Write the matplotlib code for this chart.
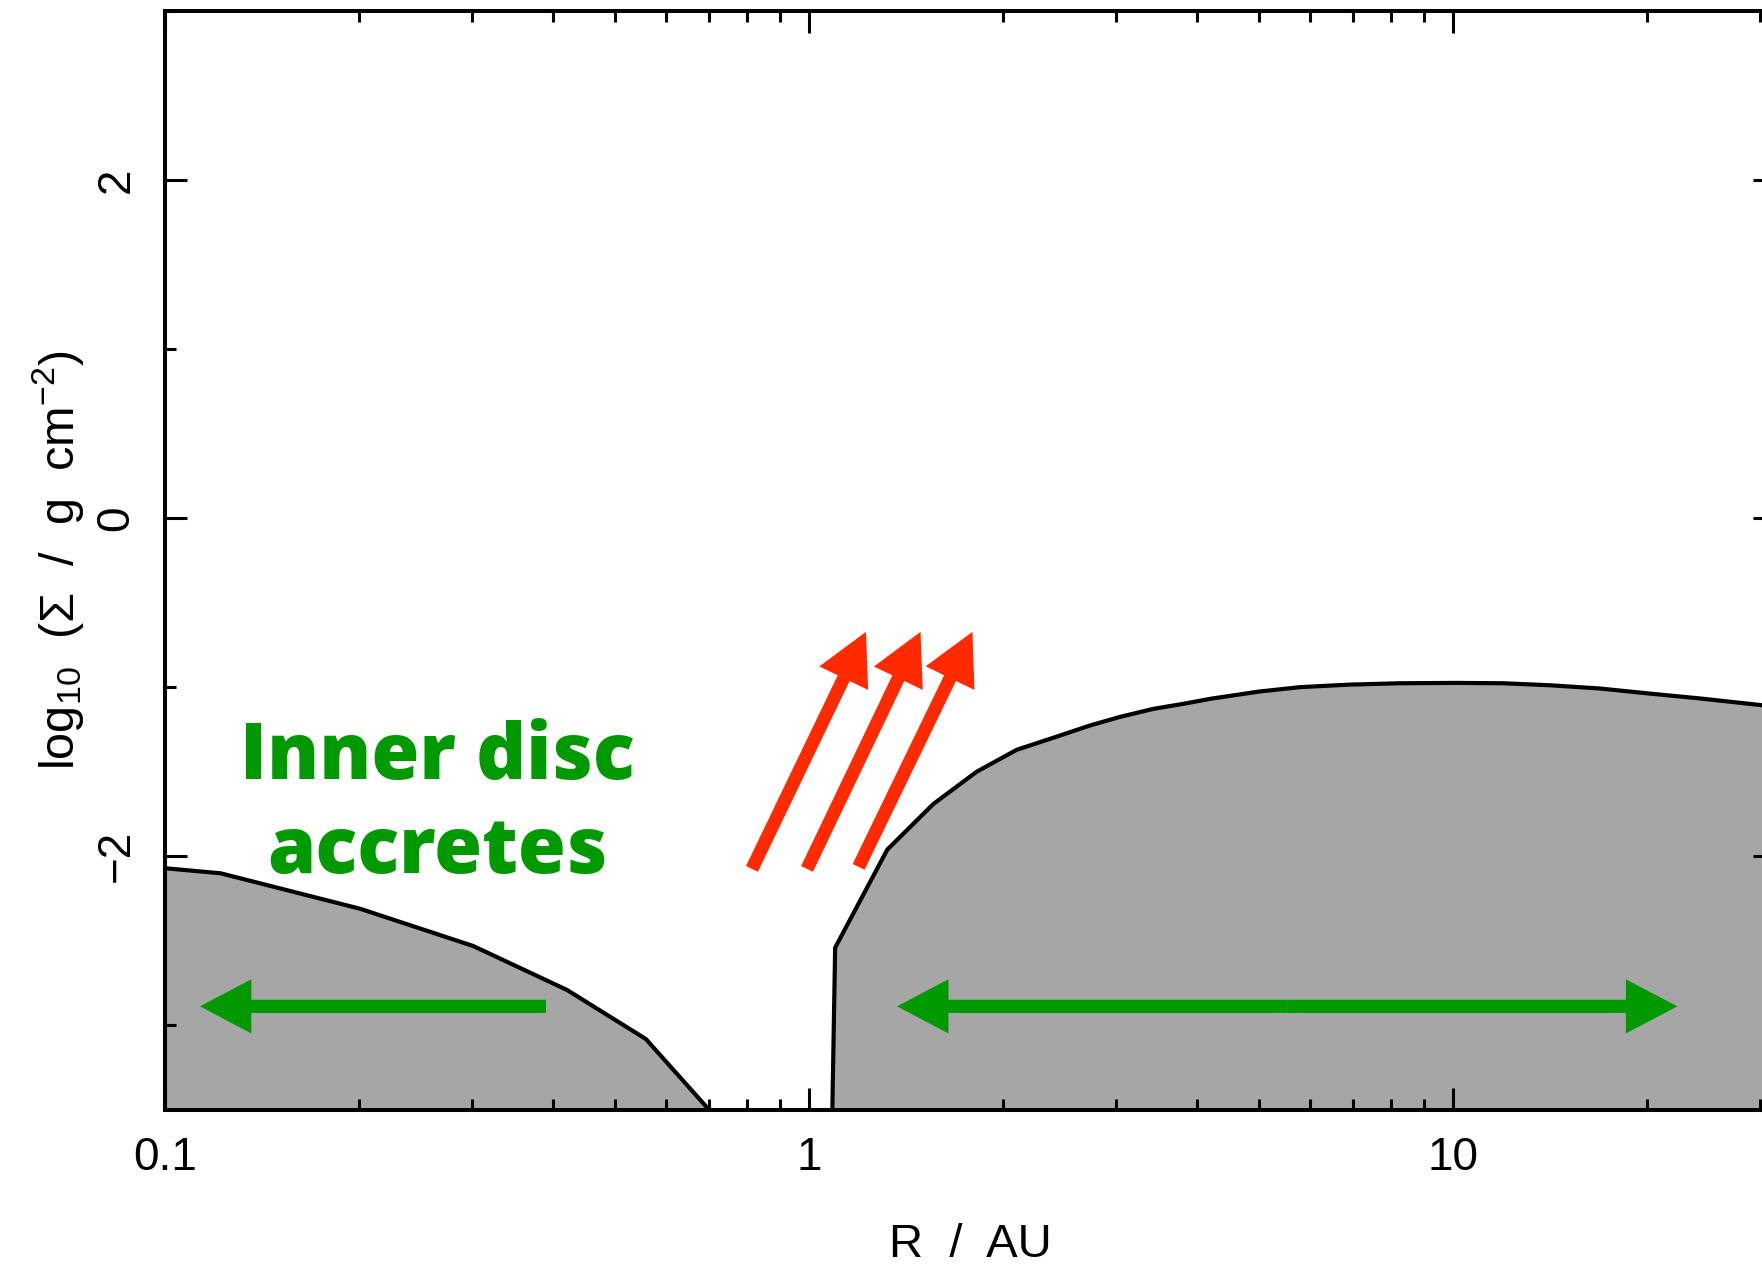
import numpy as np
import matplotlib
matplotlib.use("Agg")
import matplotlib.pyplot as plt
import matplotlib.ticker as ticker
from matplotlib.patches import FancyArrowPatch

# surface density profile
r_inner = [0.1, 0.122, 0.201, 0.301, 0.421, 0.558, 0.70]
sig_inner = [-2.07, -2.10, -2.31, -2.53, -2.79, -3.08, -3.50]

r_outer = [1.087, 1.098, 1.323, 1.56, 1.82, 2.10, 2.41, 2.73, 3.04, 3.43, 3.81,
           4.20, 4.61, 5.0, 5.79, 6.92, 8.27, 10.1, 11.96, 14.15, 16.9, 20.2,
           24.2, 30.2, 31.6]
sig_outer = [-3.50, -2.54, -1.96, -1.69, -1.50, -1.37, -1.295, -1.226, -1.175, -1.127, -1.098,
             -1.068, -1.045, -1.025, -0.999, -0.984, -0.976, -0.974, -0.976, -0.988, -1.007, -1.037,
             -1.066, -1.106, -1.116]

xticks = [0.1, 1, 10]
xticklabels = ['0.1', '1', '10']
yticks = [-2, 0, 2]
yticklabels = ['\u22122', '0', '2']

plt.rcParams['font.family'] = ['Liberation Sans', 'DejaVu Sans']
plt.rcParams['mathtext.fontset'] = 'custom'
plt.rcParams['mathtext.rm'] = 'Liberation Sans'
plt.rcParams['mathtext.it'] = 'Liberation Sans:italic'

fig = plt.figure(figsize=(17.62, 12.78), dpi=100)
ax = fig.add_axes([165/1762, 168/1278, 1610/1762, 1099/1278])

ybot = -3.5
ax.fill_between(r_inner, sig_inner, ybot, color='#a6a6a6', lw=0)
ax.fill_between(r_outer, sig_outer, ybot, color='#a6a6a6', lw=0)
ax.plot(r_inner, sig_inner, 'k-', lw=3.0)
ax.plot(r_outer, sig_outer, 'k-', lw=3.0)

ax.set_xscale('log')
ax.set_xlim(0.1, 10**1.5)
ax.set_ylim(-3.5, 3)

ax.set_xticks(xticks)
ax.set_xticklabels(xticklabels)
ax.xaxis.set_minor_locator(ticker.LogLocator(base=10, subs=np.arange(2, 10)))
ax.xaxis.set_minor_formatter(ticker.NullFormatter())
ax.set_yticks(yticks)
ax.set_yticklabels(yticklabels, rotation=90, va='center')
ax.yaxis.set_minor_locator(ticker.MultipleLocator(1))

ax.tick_params(which='both', direction='in', top=True, right=True,
               width=2.2, labelsize=33, pad=19)
ax.tick_params(which='major', length=16)
ax.tick_params(which='minor', length=8)
for s in ax.spines.values():
    s.set_linewidth(2.9)

ax.set_xlabel('R  /  AU', fontsize=34, labelpad=31)
ax.set_ylabel('log$_{10}$  (\u03a3  /  g  cm$^{-2}$)', fontsize=35, labelpad=6)

def arrow(tail, tip, color):
    p = FancyArrowPatch(tail, tip, arrowstyle='simple,head_length=37,head_width=39,tail_width=9.5',
                        mutation_scale=1, color=color, lw=0, shrinkA=0, shrinkB=0, zorder=3)
    ax.add_patch(p)

red = '#ff2a00'
green = '#009900'
arrow((0.8155, -2.074), (1.226, -0.672), red)
arrow((0.993, -2.074), (1.49, -0.672), red)
arrow((1.194, -2.062), (1.794, -0.672), red)

arrow((0.3905, -2.887), (0.1133, -2.887), green)
mid = np.sqrt(1.370 * 22.3)
arrow((mid, -2.887), (1.370, -2.887), green)
arrow((mid, -2.887), (22.3, -2.887), green)

ax.text(0.2645, -1.545, 'Inner disc', color=green, fontsize=56, fontweight='heavy',
        family='Open Sans', ha='center', va='baseline')
ax.text(0.2645, -2.098, 'accretes', color=green, fontsize=56, fontweight='heavy',
        family='Open Sans', ha='center', va='baseline')

fig.savefig('out.png', dpi=100)
